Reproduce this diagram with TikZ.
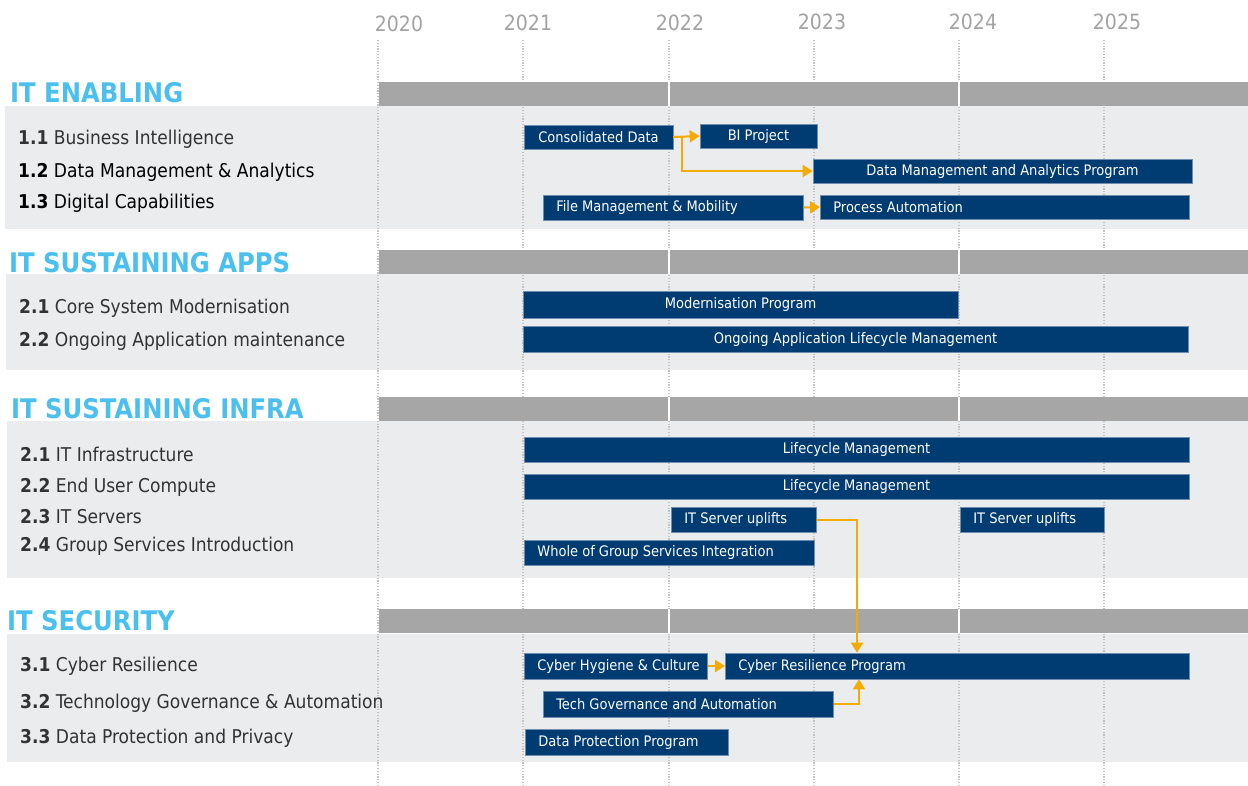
\documentclass[tikz,border=0pt]{standalone}
\usepackage{fontspec}
\setmainfont{DejaVu Sans Condensed}
\usetikzlibrary{arrows.meta,calc}
\definecolor{navy}{HTML}{003B71}
\definecolor{navyedge}{HTML}{6E8DAF}
\definecolor{panel}{HTML}{EBECEE}
\definecolor{band}{HTML}{A6A6A6}
\definecolor{heading}{HTML}{4BC0EE}
\definecolor{yeargray}{HTML}{A3A3A3}
\definecolor{gridgray}{HTML}{C4C4C4}
\definecolor{amber}{HTML}{F5AA00}
\definecolor{itemtext}{HTML}{333333}

\tikzset{
  barbox/.style={fill=navy, draw=navyedge, line width=0.7pt, text=white,
    font=\fontsize{14.5}{16}\selectfont, inner ysep=0pt},
  itemlabel/.style={anchor=west, inner sep=0pt, text=itemtext,
    font=\fontsize{19}{22}\selectfont, yshift=-1.5pt},
  heading/.style={anchor=west, inner sep=0pt, text=heading,
    font=\fontsize{27}{29}\selectfont\bfseries, yshift=-1pt},
  yearlabel/.style={inner sep=0pt, text=yeargray, font=\fontsize{21}{24}\selectfont},
  gridline/.style={draw=gridgray, line width=1.1pt, dash pattern=on 1.2pt off 1.6pt},
  conn/.style={draw=amber, line width=2pt, -{Triangle[length=10pt,width=12pt]}},
}

% centred bar: name, x1, y1, x2, y2, text
\newcommand\cbar[6]{%
  \pgfmathsetmacro\barw{#4-#2}\pgfmathsetmacro\barh{#5-#3}%
  \node[barbox, minimum width=\barw pt, minimum height=\barh pt, inner xsep=0pt]
    (#1) at ({(#2+#4)/2},{(#3+#5)/2}) {#6};}
% left-aligned bar: name, x1, y1, x2, y2, text
\newcommand\lbar[6]{%
  \pgfmathsetmacro\barh{#5-#3}%
  \pgfmathsetmacro\textw{#4-#2-26}%
  \node[barbox, anchor=west, minimum height=\barh pt, inner xsep=13pt]
    (#1) at (#2,{(#3+#5)/2}) {\makebox[\textw pt][l]{#6}};}

\begin{document}
\begin{tikzpicture}[x=1pt,y=-1pt]
\useasboundingbox (0,0) rectangle (1248,785);
\fill[white] (0,0) rectangle (1248,785);

% section panels
\fill[panel] (5,106) rectangle (1248,229);
\fill[panel] (6,274) rectangle (1248,370);
\fill[panel] (7,421) rectangle (1248,578);
\fill[panel] (7,634) rectangle (1248,762);

% year grid
\foreach \yx in {378, 523, 669, 814, 959, 1104} {
  \draw[gridline] (\yx,40) -- (\yx,785);
}
\node[yearlabel] (y2020) at (399,24) {2020};
\node[yearlabel] (y2021) at (528,23) {2021};
\node[yearlabel] (y2022) at (680,23) {2022};
\node[yearlabel] (y2023) at (822,22) {2023};
\node[yearlabel] (y2024) at (973,22) {2024};
\node[yearlabel] (y2025) at (1117,22) {2025};

% grey header bands with breaks at 2022 and 2024
\foreach \ya/\yb in {82/106, 250/274, 397/421, 609/633} {
  \fill[band] (379,\ya) rectangle (1248,\yb);
  \draw[white, line width=1.6pt] (669,\ya) -- (669,\yb);
  \draw[white, line width=1.6pt] (959,\ya) -- (959,\yb);
}

% headings
\node[heading] (h1) at (10,92) {IT ENABLING};
\node[heading] (h2) at (9,262) {IT SUSTAINING APPS};
\node[heading] (h3) at (11,408) {IT SUSTAINING INFRA};
\node[heading] (h4) at (7,620) {IT SECURITY};

% item labels
\node[itemlabel] (i11) at (18,138) {\textbf{1.1} Business Intelligence};
\node[itemlabel, text=black] (i12) at (18,171) {\textbf{1.2} Data Management \& Analytics};
\node[itemlabel, text=black] (i13) at (18,202) {\textbf{1.3} Digital Capabilities};
\node[itemlabel] (i21) at (19,307) {\textbf{2.1} Core System Modernisation};
\node[itemlabel] (i22) at (19,340) {\textbf{2.2} Ongoing Application maintenance};
\node[itemlabel] (j21) at (20,453) {\textbf{2.1} IT Infrastructure};
\node[itemlabel] (j22) at (20,486) {\textbf{2.2} End User Compute};
\node[itemlabel] (j23) at (20,515) {\textbf{2.3} IT Servers};
\node[itemlabel] (j24) at (20,545) {\textbf{2.4} Group Services Introduction};
\node[itemlabel] (k31) at (20,665) {\textbf{3.1} Cyber Resilience};
\node[itemlabel] (k32) at (20,702) {\textbf{3.2} Technology Governance \& Automation};
\node[itemlabel] (k33) at (20,737) {\textbf{3.3} Data Protection and Privacy};

% IT enabling
\cbar{cd}{524}{125}{673}{149}{Consolidated Data}
\cbar{bi}{700}{124}{817}{148}{BI Project}
\cbar{dmap}{813}{159}{1192}{183}{Data Management and Analytics Program}
\lbar{fm}{543}{195}{803}{220}{File Management \& Mobility}
\lbar{pa}{820}{195}{1189}{219}{Process Automation}

% IT sustaining apps
\cbar{mp}{523}{291}{958}{318}{Modernisation Program}
\cbar{oal}{523}{326}{1188}{352}{Ongoing Application Lifecycle Management}

% IT sustaining infra
\cbar{lm1}{524}{437}{1189}{462}{Lifecycle Management}
\cbar{lm2}{524}{474}{1189}{499}{Lifecycle Management}
\lbar{su1}{671}{507}{816}{532}{IT Server uplifts}
\lbar{su2}{960}{507}{1104}{532}{IT Server uplifts}
\lbar{wog}{524}{540}{814}{565}{Whole of Group Services Integration}

% IT security
\lbar{ch}{524}{653}{707}{679}{Cyber Hygiene \& Culture}
\lbar{cr}{725}{653}{1189}{679}{Cyber Resilience Program}
\lbar{tg}{543}{691}{833}{717}{Tech Governance and Automation}
\lbar{dp}{525}{729}{728}{755}{Data Protection Program}

% dependencies
\draw[conn] (cd.east) -- (bi.west);
\draw[conn] (cd.east) -- ++(9,0) |- (dmap.west);
\draw[conn] (fm.east) -- (pa.west);
\draw[conn] (su1.east) -| ($(cr.north west)+(132,0)$);
\draw[conn] (ch.east) -- (cr.west);
\draw[conn] (tg.east) -| ($(cr.south west)+(134,0)$);
\end{tikzpicture}
\end{document}
